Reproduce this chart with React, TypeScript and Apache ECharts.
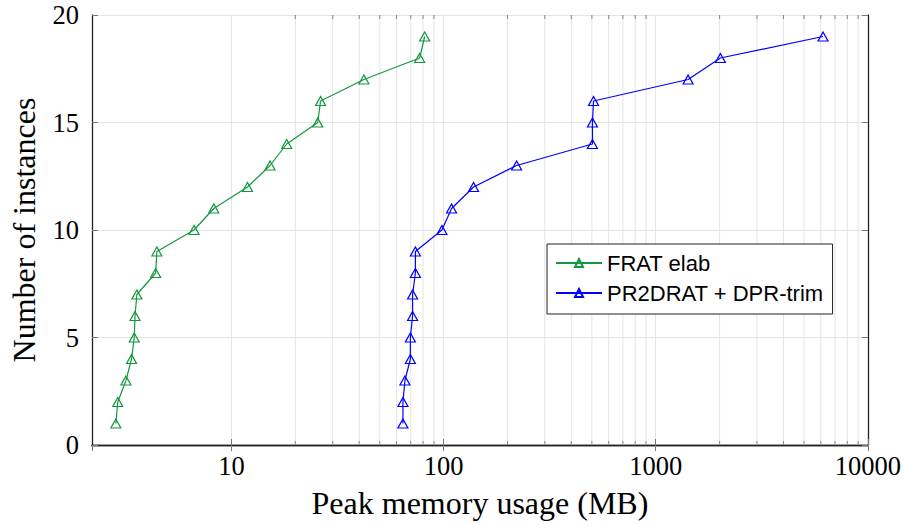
import React, { useEffect, useRef } from "react";
import * as echarts from "echarts";

// ---- data ----
const instanceCounts = [1, 2, 3, 4, 5, 6, 7, 8, 9, 10, 11, 12, 13, 14, 15, 16, 17, 18, 19];
const fratElabMB = [2.85, 2.91, 3.18, 3.38, 3.48, 3.51, 3.58, 4.39, 4.45, 6.66, 8.25, 11.9, 15.2, 18.2, 25.5, 26.3, 42.1, 77.1, 81.4];
const pr2dratMB = [64.3, 64.3, 65.7, 69.7, 69.7, 71.4, 71.4, 73.6, 73.6, 98.2, 109, 138.4, 220.8, 503, 503, 509, 1421, 2017, 6145];
const seriesNames = ["FRAT elab", "PR2DRAT + DPR-trim"];
const minorTickValues = [20, 30, 40, 50, 60, 70, 80, 90, 200, 300, 400, 500, 600, 700, 800, 900, 2000, 3000, 4000, 5000, 6000, 7000, 8000, 9000];
const xRange = [2.2, 10000];
const yRange = [0, 20];
const yStep = 5;

const GREEN = "#12993f";
const BLUE = "#0000ff";
const SERIF = "'Liberation Serif', 'Times New Roman', serif";
const SANS = "'Liberation Sans', Arial, sans-serif";

export default function App() {
  const ref = useRef<HTMLDivElement>(null);

  useEffect(() => {
    if (!ref.current) return;
    const chart = echarts.init(ref.current, undefined, { renderer: "svg" });

    const lineSeries = (name: string, xs: number[], color: string) => ({
      type: "line",
      name,
      data: xs.map((x, i) => [x, instanceCounts[i]]),
      xAxisIndex: 0,
      yAxisIndex: 0,
      color,
      symbol: "triangle",
      symbolSize: [10, 9],
      showAllSymbol: true,
      lineStyle: { color, width: 1.2 },
      itemStyle: { color: "rgba(255,255,255,0)", borderColor: color, borderWidth: 1.2 },
      z: 3,
      silent: true,
    });

    const option: any = {
      animation: false,
      backgroundColor: "#ffffff",
      grid: { left: 91, right: 36, top: 15, bottom: 80, containLabel: false },
      legend: {
        data: seriesNames,
        orient: "vertical",
        left: 547,
        top: 244,
        padding: [7, 9, 9, 8],
        itemGap: 6,
        itemWidth: 46,
        itemHeight: 10,
        backgroundColor: "#ffffff",
        borderColor: "#222",
        borderWidth: 1,
        borderRadius: 0,
        textStyle: { fontFamily: SANS, fontSize: 22, lineHeight: 24, color: "#000" },
        selectedMode: false,
      },
      xAxis: [
        {
          type: "log",
          logBase: 10,
          min: xRange[0],
          max: xRange[1],
          position: "bottom",
          name: "Peak memory usage (MB)",
          nameLocation: "middle",
          nameGap: 58,
          nameTextStyle: { fontFamily: SERIF, fontSize: 32, color: "#000", verticalAlign: "middle" },
          axisLine: { show: true, lineStyle: { color: "#222", width: 1.3 } },
          axisTick: { show: true, inside: true, length: 6, lineStyle: { color: "#777", width: 1 } },
          axisLabel: {
            show: true,
            showMinLabel: false,
            showMaxLabel: true,
            margin: 8,
            fontFamily: SERIF,
            fontSize: 26.5,
            lineHeight: 26,
            color: "#000",
            formatter: (v: number) => String(Math.round(v)),
          },
          splitLine: { show: true, lineStyle: { color: "#e4e4e4", width: 1 } },
        },
        {
          type: "log",
          logBase: 10,
          min: xRange[0],
          max: xRange[1],
          position: "top",
          axisLine: { show: true, lineStyle: { color: "#222", width: 1.3 } },
          axisTick: { show: true, inside: true, length: 6, lineStyle: { color: "#777", width: 1 } },
          axisLabel: { show: false },
          splitLine: { show: false },
        },
      ],
      yAxis: [
        {
          type: "value",
          min: yRange[0],
          max: yRange[1],
          interval: yStep,
          position: "left",
          name: "Number of instances",
          nameLocation: "middle",
          nameRotate: 90,
          nameGap: 68,
          nameTextStyle: { fontFamily: SERIF, fontSize: 32, color: "#000", verticalAlign: "middle" },
          axisLine: { show: true, lineStyle: { color: "#222", width: 1.3 } },
          axisTick: { show: true, inside: true, length: 6, lineStyle: { color: "#777", width: 1 } },
          axisLabel: { margin: 13, fontFamily: SERIF, fontSize: 26.5, color: "#000" },
          splitLine: { show: true, lineStyle: { color: "#e4e4e4", width: 1 } },
        },
        {
          type: "value",
          min: yRange[0],
          max: yRange[1],
          interval: yStep,
          position: "right",
          axisLine: { show: true, lineStyle: { color: "#222", width: 1.3 } },
          axisTick: { show: true, inside: true, length: 6, lineStyle: { color: "#777", width: 1 } },
          axisLabel: { show: false },
          splitLine: { show: false },
        },
      ],
      series: [
        {
          type: "custom",
          name: "minor-grid",
          xAxisIndex: 0,
          yAxisIndex: 0,
          silent: true,
          z: 1,
          clip: false,
          encode: { x: 0, y: 1 },
          data: minorTickValues.map((v) => [v, yRange[0]]),
          renderItem: (params: any, api: any) => {
            const x = api.coord([api.value(0), yRange[0]])[0];
            const cs = params.coordSys;
            const top = cs.y;
            const bottom = cs.y + cs.height;
            return {
              type: "group",
              children: [
                { type: "line", shape: { x1: x, y1: top, x2: x, y2: bottom }, style: { stroke: "#e4e4e4", lineWidth: 1 } },
                { type: "line", shape: { x1: x, y1: bottom, x2: x, y2: bottom - 4 }, style: { stroke: "#888", lineWidth: 1 } },
                { type: "line", shape: { x1: x, y1: top, x2: x, y2: top + 4 }, style: { stroke: "#888", lineWidth: 1 } },
              ],
            };
          },
        },
        lineSeries(seriesNames[0], fratElabMB, GREEN),
        lineSeries(seriesNames[1], pr2dratMB, BLUE),
      ],
    };

    chart.setOption(option);
    return () => chart.dispose();
  }, []);

  return (
    <div
      ref={ref}
      style={{ position: "fixed", left: 0, top: 0, width: 904, height: 525, background: "#fff" }}
    />
  );
}
